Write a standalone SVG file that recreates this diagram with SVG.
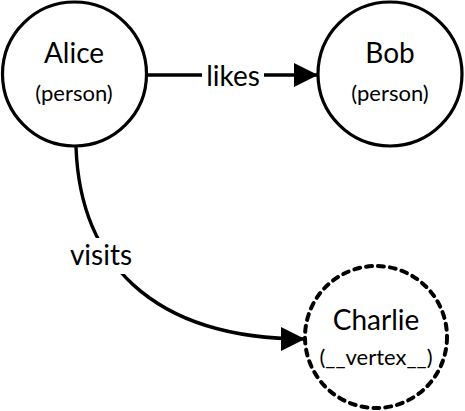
<svg xmlns="http://www.w3.org/2000/svg" width="465" height="411" viewBox="0 0 465 411">
<style>
text{font-family:Lato,"Liberation Sans",sans-serif;fill:#000;text-anchor:middle}
.name{font-size:28px}
.type{font-size:22px}
.lbl{font-size:28px}
.node{fill:#fff;stroke:#000;stroke-width:3.2}
.dashed{stroke-dasharray:6 6;stroke-linecap:round;stroke-width:4}
.edge{fill:none;stroke:#000;stroke-width:3.4}
.bg{fill:#fff}
</style>
<defs>
<marker id="arrow" viewBox="0 0 24 24" refX="24" refY="12" markerWidth="24" markerHeight="24" markerUnits="userSpaceOnUse" orient="auto">
<path d="M0,0 L24,12 L0,24 Z" fill="#000"/>
</marker>
</defs>
<g id="edges">
<g id="edge-likes">
<path class="edge" d="M147,75 L318,75" marker-end="url(#arrow)"/>
<rect class="bg" x="202" y="60" width="62" height="32"/>
<text class="lbl" x="233" y="86">likes</text>
</g>
<g id="edge-visits">
<path class="edge" d="M76,147 C80,260 150,339 305,339" marker-end="url(#arrow)"/>
<rect class="bg" x="66" y="238" width="70" height="36"/>
<text class="lbl" x="101" y="265">visits</text>
</g>
</g>
<g id="alice">
<circle class="node" cx="74.5" cy="74" r="72"/>
<text class="name" x="74" y="63">Alice</text>
<text class="type" x="74" y="101">(person)</text>
</g>
<g id="bob">
<circle class="node" cx="390" cy="74" r="72"/>
<text class="name" x="390" y="63">Bob</text>
<text class="type" x="390" y="101">(person)</text>
</g>
<g id="charlie">
<circle class="node dashed" cx="376" cy="337" r="71"/>
<text class="name" x="376" y="330">Charlie</text>
<text class="type" x="376" y="365">(__vertex__)</text>
</g>
</svg>
